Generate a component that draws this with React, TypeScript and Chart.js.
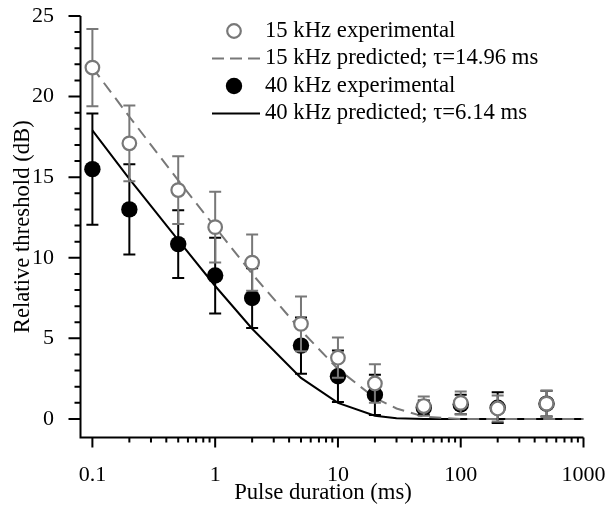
import React, { useEffect, useRef } from "react";
import { Chart, registerables } from "chart.js";

Chart.register(...registerables);

// ---- data ----
const durations = [0.1, 0.2, 0.5, 1, 2, 5, 10, 20, 50, 100, 200, 500];
const exp15 = [21.8, 17.1, 14.2, 11.9, 9.7, 5.9, 3.8, 2.2, 0.8, 1.0, 0.65, 0.95];
const err15 = [2.4, 2.35, 2.1, 2.2, 1.75, 1.7, 1.25, 1.2, 0.6, 0.7, 0.8, 0.8];
const exp40 = [15.5, 13.0, 10.85, 8.9, 7.5, 4.55, 2.65, 1.5, 0.7, 0.9, 0.7, 0.95];
const err40 = [3.45, 2.8, 2.1, 2.35, 1.85, 1.75, 1.6, 1.25, 0.45, 0.6, 0.95, 0.8];

const predDurations = [0.1, 0.2, 0.5, 1, 2, 5, 10, 20, 30, 50, 100, 200, 500, 1000];
const pred15 = [21.8, 18.75, 14.8, 11.9, 9.0, 5.5, 3.1, 1.3, 0.65, 0.15, 0, 0, 0, 0];
const pred40 = [17.9, 14.9, 11.1, 8.25, 5.6, 2.55, 1.0, 0.2, 0.04, 0, 0, 0, 0, 0];

const xMajorTicks = [0.1, 1, 10, 100, 1000];
const xMinorTicks = [
  0.2, 0.3, 0.4, 0.5, 0.6, 0.7, 0.8, 0.9,
  2, 3, 4, 5, 6, 7, 8, 9,
  20, 30, 40, 50, 60, 70, 80, 90,
  200, 300, 400, 500, 600, 700, 800, 900,
];
const yMajorTicks = [0, 5, 10, 15, 20, 25];
const yMinorTicks = [1, 2, 3, 4, 6, 7, 8, 9, 11, 12, 13, 14, 16, 17, 18, 19, 21, 22, 23, 24];

const legendLabels = [
  "15 kHz experimental",
  "15 kHz predicted; \u03c4=14.96 ms",
  "40 kHz experimental",
  "40 kHz predicted; \u03c4=6.14 ms",
];
const xTitle = "Pulse duration (ms)";
const yTitle = "Relative threshold (dB)";

// ---- styles ----
const GRAY = "rgb(120,120,120)";
const BLACK = "#000";
const FONT = '"Liberation Serif", "Times New Roman", serif';
const W = 607;
const H = 509;

const errorBarPlugin = {
  id: "errorBars",
  beforeDatasetDraw(chart: any, args: any) {
    const i = args.index;
    if (i !== 0 && i !== 1) return;
    const vals = i === 0 ? exp15 : exp40;
    const errs = i === 0 ? err15 : err40;
    const color = i === 0 ? GRAY : BLACK;
    const xs = chart.scales.x;
    const ys = chart.scales.y;
    const ctx = chart.ctx;
    ctx.save();
    ctx.strokeStyle = color;
    ctx.lineWidth = 2;
    durations.forEach((d, k) => {
      const px = xs.getPixelForValue(d);
      const top = ys.getPixelForValue(vals[k] + errs[k]);
      const bot = ys.getPixelForValue(vals[k] - errs[k]);
      ctx.beginPath();
      ctx.moveTo(px, top);
      ctx.lineTo(px, bot);
      ctx.moveTo(px - 6, top);
      ctx.lineTo(px + 6, top);
      ctx.moveTo(px - 6, bot);
      ctx.lineTo(px + 6, bot);
      ctx.stroke();
    });
    ctx.restore();
  },
};

const axesPlugin = {
  id: "axesAndLegend",
  afterDraw(chart: any) {
    const ctx = chart.ctx;
    const { left, right, top, bottom } = chart.chartArea;
    const xs = chart.scales.x;
    const ys = chart.scales.y;
    ctx.save();
    ctx.strokeStyle = BLACK;
    ctx.lineWidth = 2;
    ctx.lineCap = "butt";
    ctx.lineJoin = "miter";
    // axis lines
    ctx.beginPath();
    ctx.moveTo(left, top);
    ctx.lineTo(left, bottom);
    ctx.lineTo(right, bottom);
    ctx.stroke();
    // ticks
    ctx.beginPath();
    yMajorTicks.forEach((v) => {
      const p = ys.getPixelForValue(v);
      ctx.moveTo(left, p);
      ctx.lineTo(left - 12, p);
    });
    yMinorTicks.forEach((v) => {
      const p = ys.getPixelForValue(v);
      ctx.moveTo(left, p);
      ctx.lineTo(left - 6, p);
    });
    xMajorTicks.forEach((v) => {
      const p = xs.getPixelForValue(v);
      ctx.moveTo(p, bottom);
      ctx.lineTo(p, bottom + 10);
    });
    xMinorTicks.forEach((v) => {
      const p = xs.getPixelForValue(v);
      ctx.moveTo(p, bottom);
      ctx.lineTo(p, bottom + 5);
    });
    ctx.stroke();

    // x-axis title
    ctx.fillStyle = BLACK;
    ctx.font = `22.7px ${FONT}`;
    ctx.textAlign = "center";
    ctx.textBaseline = "alphabetic";
    ctx.fillText(xTitle, 323, 498.5);

    // legend
    const rows = [31, 58.5, 86, 113.5];
    const symX = 234;
    const lineX0 = 212;
    const lineX1 = 260;
    ctx.beginPath();
    ctx.arc(symX, rows[0], 6.8, 0, Math.PI * 2);
    ctx.fillStyle = "#fff";
    ctx.fill();
    ctx.strokeStyle = GRAY;
    ctx.lineWidth = 2.2;
    ctx.stroke();
    ctx.beginPath();
    ctx.setLineDash([12, 6]);
    ctx.lineWidth = 2;
    ctx.strokeStyle = GRAY;
    ctx.moveTo(lineX0, rows[1]);
    ctx.lineTo(lineX1, rows[1]);
    ctx.stroke();
    ctx.setLineDash([]);
    ctx.beginPath();
    ctx.arc(symX, rows[2], 8.2, 0, Math.PI * 2);
    ctx.fillStyle = BLACK;
    ctx.fill();
    ctx.beginPath();
    ctx.lineWidth = 2;
    ctx.strokeStyle = BLACK;
    ctx.moveTo(lineX0, rows[3]);
    ctx.lineTo(lineX1, rows[3]);
    ctx.stroke();
    ctx.fillStyle = BLACK;
    ctx.font = `22.7px ${FONT}`;
    ctx.textAlign = "left";
    ctx.textBaseline = "middle";
    legendLabels.forEach((t, k) => ctx.fillText(t, 265, rows[k]));
    ctx.restore();
  },
};

export default function App() {
  const ref = useRef<HTMLCanvasElement | null>(null);

  useEffect(() => {
    if (!ref.current) return;
    const chart = new Chart(ref.current, {
      type: "scatter",
      data: {
        datasets: [
          {
            label: legendLabels[0],
            data: durations.map((d, i) => ({ x: d, y: exp15[i] })),
            pointRadius: 6.8,
            pointBackgroundColor: "#fff",
            pointBorderColor: GRAY,
            pointBorderWidth: 2.2,
            showLine: false,
          },
          {
            label: legendLabels[2],
            data: durations.map((d, i) => ({ x: d, y: exp40[i] })),
            pointRadius: 8.2,
            pointBackgroundColor: BLACK,
            pointBorderColor: BLACK,
            pointBorderWidth: 0,
            showLine: false,
          },
          {
            label: legendLabels[1],
            data: predDurations.map((d, i) => ({ x: d, y: pred15[i] })),
            showLine: true,
            borderColor: GRAY,
            borderWidth: 2,
            borderDash: [12, 7],
            pointRadius: 0,
            tension: 0,
          },
          {
            label: legendLabels[3],
            data: predDurations.map((d, i) => ({ x: d, y: pred40[i] })),
            showLine: true,
            borderColor: BLACK,
            borderWidth: 2,
            pointRadius: 0,
            tension: 0,
          },
        ],
      },
      options: {
        responsive: false,
        animation: false,
        devicePixelRatio: 1,
        layout: { padding: { left: 0, top: 16, right: 23.5, bottom: 0 } },
        plugins: {
          legend: { display: false },
          tooltip: { enabled: false },
        },
        scales: {
          x: {
            type: "logarithmic",
            min: 0.08,
            max: 1000,
            grid: { display: false },
            border: { display: false },
            afterBuildTicks: (scale: any) => {
              scale.ticks = xMajorTicks.map((v) => ({ value: v, major: true }));
            },
            afterFit: (scale: any) => {
              scale.height = H - 437.5;
              scale.paddingLeft = 0;
              scale.paddingRight = 0;
              scale.paddingTop = 0;
              scale.paddingBottom = 0;
            },
            ticks: {
              autoSkip: false,
              maxRotation: 0,
              padding: 16.5,
              color: BLACK,
              font: { family: FONT, size: 22 },
              callback: (v: any) => String(v),
            },
            title: { display: false, text: xTitle },
          },
          y: {
            type: "linear",
            min: -1.15,
            max: 25,
            grid: { display: false },
            border: { display: false },
            afterBuildTicks: (scale: any) => {
              scale.ticks = yMajorTicks.map((v) => ({ value: v }));
            },
            afterFit: (scale: any) => {
              scale.width = 80.5;
              scale.paddingLeft = 0;
              scale.paddingRight = 0;
              scale.paddingTop = 0;
              scale.paddingBottom = 0;
            },
            ticks: {
              padding: 18.5,
              color: BLACK,
              font: { family: FONT, size: 22 },
              callback: (v: any) => String(v),
            },
            title: {
              display: true,
              text: yTitle,
              color: BLACK,
              font: { family: FONT, size: 22.7 },
              padding: { top: 9, bottom: 0 },
            },
          },
        },
      },
      plugins: [errorBarPlugin, axesPlugin],
    });
    return () => chart.destroy();
  }, []);

  return (
    <div style={{ position: "fixed", left: 0, top: 0, width: W, height: H, background: "#fff" }}>
      <canvas ref={ref} width={W} height={H} style={{ display: "block" }} />
    </div>
  );
}
